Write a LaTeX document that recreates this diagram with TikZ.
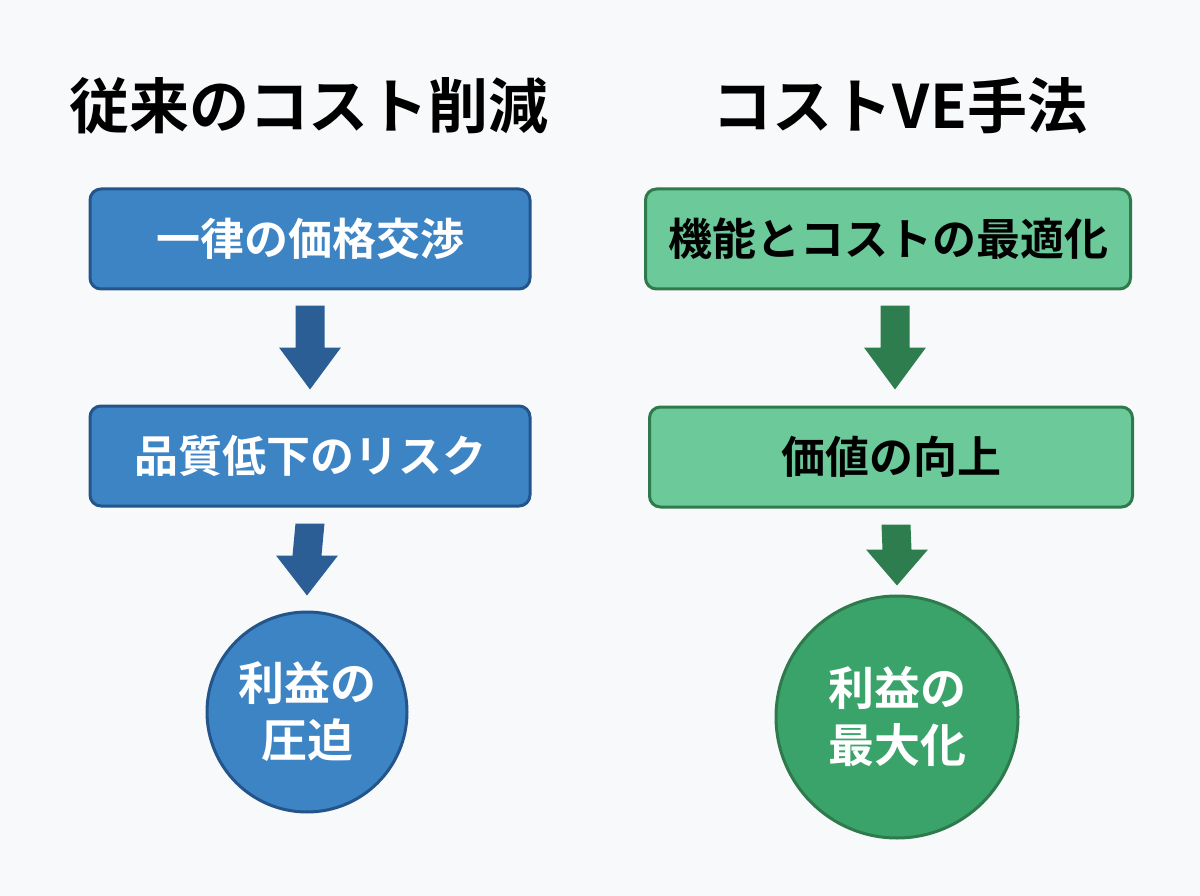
\documentclass[tikz,border=0pt]{standalone}
\usepackage{fontspec}
\newfontfamily\jp{Noto Sans CJK JP}[BoldFont={Noto Sans CJK JP Bold}]
\usetikzlibrary{calc}
\definecolor{bg}{HTML}{F8F9FA}
\definecolor{bluefill}{HTML}{3D84C5}
\definecolor{blueline}{HTML}{24558A}
\definecolor{bluearrow}{HTML}{2B5E95}
\definecolor{greenfill}{HTML}{6CC99A}
\definecolor{greenline}{HTML}{2F7A4C}
\definecolor{greenarrow}{HTML}{2E7D4F}
\definecolor{greencirc}{HTML}{3AA36A}
\tikzset{
  title/.style={font=\jp\bfseries\fontsize{60}{66}\selectfont, text=black, inner sep=0},
  boxstyle/.style={rounded corners=11pt, line width=3pt, minimum height=100pt, inner sep=0,
     font=\jp\bfseries\fontsize{44}{50}\selectfont},
  bluebox/.style={boxstyle, draw=blueline, fill=bluefill, text=white},
  greenbox/.style={boxstyle, draw=greenline, fill=greenfill, text=black},
  circstyle/.style={circle, line width=3pt, inner sep=0, align=center, text=white,
     font=\jp\bfseries\fontsize{46}{57}\selectfont}
}
% #1 colour, #2 start node anchor + offset, #3 end node anchor + offset, #4 head length
\newcommand\blockarr[4]{%
  \fill[#1] ($#2+(-14.5,0)$) -- ($#2+(14.5,0)$) -- ($#3+(14.5,-#4)$) -- ($#3+(31,-#4)$)
    -- #3 -- ($#3+(-31,-#4)$) -- ($#3+(-14.5,-#4)$) -- cycle;}
\begin{document}
\begin{tikzpicture}[x=1pt,y=-1pt]
\fill[bg] (0,0) rectangle (1200,896);
\useasboundingbox (0,0) rectangle (1200,896);
% titles
\node[title] (tl) at (309,106) {従来のコスト削減};
\node[title] (tr) at (900,106) {コストVE手法};
% left column
\node[bluebox, minimum width=440pt] (l1) at (310,239) {一律の価格交渉};
\node[bluebox, minimum width=440pt] (l2) at (310,456) {品質低下のリスク};
\node[circstyle, draw=blueline, fill=bluefill, minimum size=200pt] (l3) at (307,712) {利益の\\圧迫};
% right column
\node[greenbox, minimum width=485pt] (r1) at (888,239) {機能とコストの最適化};
\node[greenbox, minimum width=483pt] (r2) at (891,457) {価値の向上};
\node[circstyle, draw=greenline, fill=greencirc, minimum size=242pt] (r3) at (897,717) {利益の\\最大化};
% arrows
\blockarr{bluearrow}{(l1.south)+(0,15)}{($(l2.north)+(0,-15)$)}{42}
\blockarr{bluearrow}{(l2.south)+(0,16)}{($(l3.north)+(0,-15)$)}{40}
\blockarr{greenarrow}{(r1.south)+(7,15)}{($(r2.north)+(4,-16)$)}{42}
\blockarr{greenarrow}{(r2.south)+(5,16)}{($(r3.north)+(0,-9)$)}{36}
\end{tikzpicture}
\end{document}
